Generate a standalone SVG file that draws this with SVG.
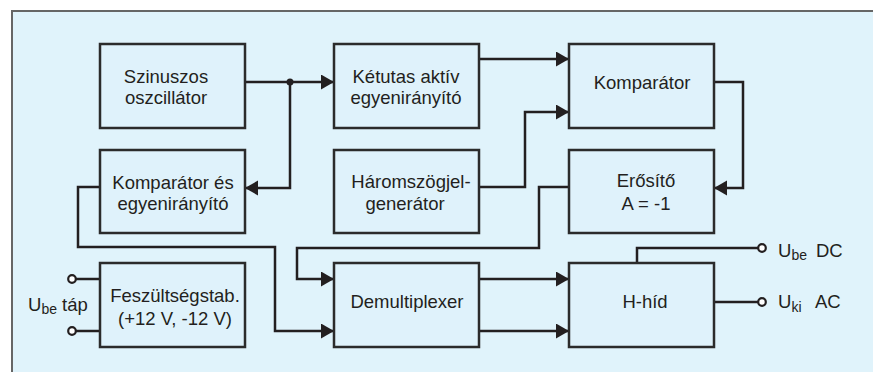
<svg xmlns="http://www.w3.org/2000/svg" width="873" height="372" viewBox="0 0 873 372">
<defs>
<marker id="arr" markerUnits="userSpaceOnUse" markerWidth="14" markerHeight="16" refX="13" refY="7.5" orient="auto">
<path d="M0,0 L13,7.5 L0,15 Z" fill="#231f20"/>
</marker>
<style>
.box{fill:#dff2fb;stroke:#2b2b2b;stroke-width:2.5}
.t{font-family:"Liberation Sans",Arial,sans-serif;font-size:18.5px;fill:#231f20;text-anchor:middle}
.l{font-family:"Liberation Sans",Arial,sans-serif;font-size:18.5px;fill:#231f20}
.s{font-size:14px}
.w{fill:none;stroke:#231f20;stroke-width:2.5}
.a{marker-end:url(#arr)}
.term{fill:#ffffff;stroke:#231f20;stroke-width:2.2}
</style>
</defs>
<rect x="12" y="11" width="861" height="361" fill="#e0f3fb"/>
<path d="M12,372 L12,11 L873,11" fill="none" stroke="#666666" stroke-width="2"/>

<g id="connectors">
<path class="w a" d="M245,82 L334,82"/>
<path class="w a" d="M290,82 L290,188 L245,188"/>
<circle cx="290" cy="82" r="3.5" fill="#231f20"/>
<path class="w a" d="M479,59 L569,59"/>
<path class="w a" d="M480,187 L525,187 L525,112 L569,112"/>
<path class="w a" d="M714,82 L743,82 L743,188 L714,188"/>
<path class="w a" d="M569,187 L539,187 L539,248 L297,248 L297,279 L334,279"/>
<path class="w a" d="M100,187 L78,187 L78,247 L275,247 L275,331 L334,331"/>
<path class="w a" d="M479,279 L569,279"/>
<path class="w a" d="M479,331 L569,331"/>
<path class="w" d="M637,263 L637,248 L758,248"/>
<path class="w" d="M714,302 L758,302"/>
<path class="w" d="M76,279 L100,279"/>
<path class="w" d="M76,331 L100,331"/>
<circle class="term" cx="762" cy="248" r="3.8"/>
<circle class="term" cx="762" cy="302" r="3.8"/>
<circle class="term" cx="72" cy="279" r="3.8"/>
<circle class="term" cx="72" cy="331" r="3.8"/>
</g>

<g id="szinuszos">
<rect class="box" x="100" y="44" width="145" height="84"/>
<text class="t" x="166" y="83">Szinuszos</text>
<text class="t" x="166" y="104">oszcillátor</text>
</g>
<g id="ketutas">
<rect class="box" x="334" y="44" width="145" height="84"/>
<text class="t" x="406" y="83">Kétutas aktív</text>
<text class="t" x="406" y="104">egyenirányító</text>
</g>
<g id="komparator">
<rect class="box" x="569" y="44" width="145" height="84"/>
<text class="t" x="642" y="89">Komparátor</text>
</g>
<g id="komparator-es">
<rect class="box" x="100" y="150" width="145" height="83"/>
<text class="t" x="173" y="189">Komparátor és</text>
<text class="t" x="173" y="210">egyenirányító</text>
</g>
<g id="haromszog">
<rect class="box" x="334" y="150" width="145" height="83"/>
<text class="t" x="411" y="188">Háromszögjel-</text>
<text class="t" x="405" y="210">generátor</text>
</g>
<g id="erosito">
<rect class="box" x="569" y="150" width="145" height="83"/>
<text class="t" x="646" y="187">Erősítő</text>
<text class="t" x="646" y="210">A = -1</text>
</g>
<g id="feszultsegstab">
<rect class="box" x="100" y="263" width="145" height="84"/>
<text class="t" x="175" y="302">Feszültségstab.</text>
<text class="t" x="175" y="325">(+12 V, -12 V)</text>
</g>
<g id="demultiplexer">
<rect class="box" x="334" y="263" width="145" height="84"/>
<text class="t" x="407" y="308">Demultiplexer</text>
</g>
<g id="hhid">
<rect class="box" x="569" y="263" width="145" height="84"/>
<text class="t" x="645" y="308">H-híd</text>
</g>

<g id="labels">
<text class="l" x="28" y="311">U<tspan class="s" dy="3">be</tspan><tspan dy="-3"> táp</tspan></text>
<text class="l" x="778" y="257">U<tspan class="s" dy="3">be</tspan><tspan x="816" dy="-3">DC</tspan></text>
<text class="l" x="778" y="308">U<tspan class="s" dy="4">ki</tspan><tspan x="815" dy="-4">AC</tspan></text>
</g>
</svg>
